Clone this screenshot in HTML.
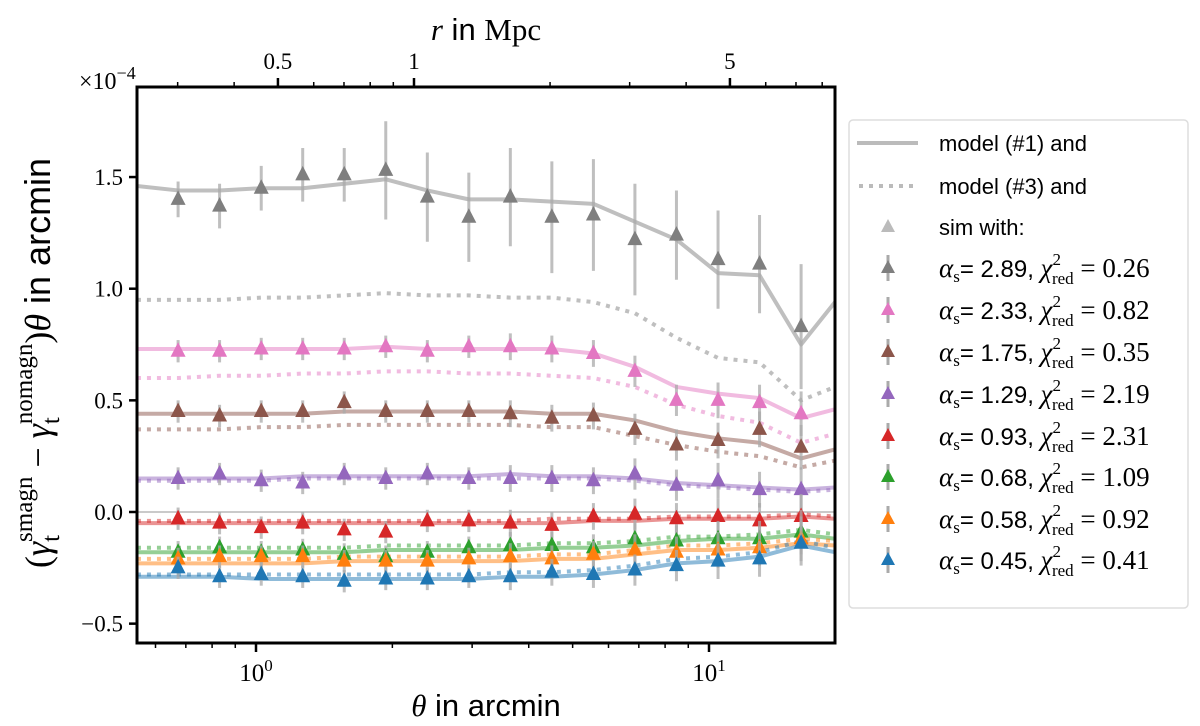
<!DOCTYPE html>
<html><head><meta charset="utf-8"><style>
body{margin:0;background:#fff;}
svg{display:block;}
text{font-family:"Liberation Sans",sans-serif;}
.serif{font-family:"Liberation Serif",serif;}
</style></head><body>
<svg id="chart" width="1200" height="726" viewBox="0 0 1200 726" xmlns="http://www.w3.org/2000/svg"></svg>
<script>
const theta = [0.673,0.831,1.027,1.268,1.566,1.934,2.389,2.950,3.643,4.499,5.557,6.862,8.475,10.47,12.93,15.97];
const thetaModel = [0.546,0.673,0.831,1.027,1.268,1.566,1.934,2.389,2.950,3.643,4.499,5.557,6.862,8.475,10.47,12.93,15.97,18.97];
const seriesNames = ['2.89','2.33','1.75','1.29','0.93','0.68','0.58','0.45'];
const chiLabels = ['0.26','0.82','0.35','2.19','2.31','1.09','0.92','0.41'];
const seriesColors = ['#7f7f7f','#e377c2','#8c564b','#9467bd','#d62728','#2ca02c','#ff7f0e','#1f77b4'];
const simGray = [1.40,1.37,1.45,1.51,1.51,1.53,1.41,1.32,1.41,1.32,1.33,1.22,1.24,1.13,1.11,0.83];
const errGray = [0.08,0.1,0.1,0.12,0.12,0.22,0.2,0.2,0.22,0.25,0.25,0.25,0.2,0.22,0.22,0.28];
const simPink = [0.72,0.72,0.73,0.73,0.73,0.74,0.72,0.74,0.74,0.73,0.71,0.63,0.50,0.50,0.49,0.44];
const simBrown = [0.45,0.43,0.45,0.45,0.49,0.45,0.45,0.45,0.44,0.42,0.43,0.37,0.30,0.32,0.37,0.29];
const simPurple = [0.15,0.17,0.14,0.13,0.17,0.15,0.17,0.15,0.15,0.15,0.14,0.17,0.12,0.14,0.10,0.10];
const simRed = [-0.03,-0.05,-0.07,-0.05,-0.08,-0.09,-0.04,-0.04,-0.05,-0.06,-0.02,-0.01,-0.03,-0.02,-0.04,-0.02];
const simGreen = [-0.18,-0.16,-0.18,-0.17,-0.19,-0.20,-0.18,-0.16,-0.15,-0.15,-0.16,-0.12,-0.13,-0.12,-0.12,-0.09];
const simOrange = [-0.21,-0.20,-0.20,-0.20,-0.22,-0.22,-0.22,-0.21,-0.20,-0.21,-0.19,-0.17,-0.18,-0.17,-0.16,-0.12];
const simBlue = [-0.25,-0.29,-0.28,-0.29,-0.31,-0.30,-0.30,-0.29,-0.29,-0.27,-0.28,-0.26,-0.24,-0.22,-0.21,-0.14];
const errSmall = [0.05,0.05,0.05,0.05,0.05,0.05,0.05,0.05,0.06,0.06,0.06,0.07,0.07,0.08,0.08,0.1];
const model1Gray = [1.46,1.44,1.44,1.45,1.45,1.47,1.49,1.44,1.40,1.40,1.39,1.38,1.30,1.22,1.07,1.06,0.75,0.94];
const model3Gray = [0.95,0.95,0.95,0.96,0.96,0.97,0.98,0.97,0.97,0.96,0.96,0.94,0.89,0.78,0.69,0.67,0.50,0.56];
const model1Pink = [0.73,0.73,0.73,0.73,0.73,0.73,0.74,0.73,0.73,0.73,0.73,0.71,0.65,0.56,0.53,0.51,0.42,0.46];
const model3Pink = [0.60,0.60,0.61,0.61,0.62,0.62,0.63,0.63,0.62,0.62,0.61,0.60,0.56,0.48,0.43,0.40,0.31,0.35];
const model1Brown = [0.44,0.44,0.44,0.44,0.44,0.45,0.45,0.45,0.45,0.45,0.44,0.44,0.41,0.36,0.33,0.31,0.24,0.28];
const model3Brown = [0.37,0.37,0.37,0.38,0.38,0.39,0.39,0.39,0.39,0.39,0.38,0.38,0.34,0.30,0.27,0.25,0.20,0.23];
const model1Purple = [0.15,0.15,0.15,0.15,0.16,0.16,0.16,0.16,0.16,0.17,0.16,0.16,0.15,0.13,0.12,0.11,0.10,0.11];
const model3Purple = [0.14,0.14,0.14,0.14,0.15,0.15,0.15,0.15,0.15,0.15,0.15,0.15,0.14,0.12,0.11,0.10,0.09,0.10];
const model1Red = [-0.05,-0.05,-0.05,-0.05,-0.05,-0.05,-0.05,-0.05,-0.05,-0.05,-0.05,-0.04,-0.04,-0.03,-0.03,-0.03,-0.02,-0.03];
const model3Red = [-0.04,-0.04,-0.04,-0.04,-0.04,-0.04,-0.04,-0.04,-0.04,-0.04,-0.03,-0.03,-0.03,-0.02,-0.02,-0.02,-0.01,-0.02];
const model1Green = [-0.18,-0.18,-0.18,-0.18,-0.18,-0.18,-0.17,-0.17,-0.17,-0.17,-0.16,-0.16,-0.15,-0.13,-0.12,-0.12,-0.10,-0.12];
const model3Green = [-0.16,-0.16,-0.16,-0.16,-0.16,-0.16,-0.15,-0.15,-0.15,-0.15,-0.14,-0.14,-0.13,-0.11,-0.11,-0.10,-0.08,-0.10];
const model1Orange = [-0.23,-0.23,-0.23,-0.23,-0.23,-0.22,-0.22,-0.22,-0.22,-0.22,-0.21,-0.21,-0.19,-0.17,-0.17,-0.16,-0.14,-0.15];
const model3Orange = [-0.21,-0.21,-0.21,-0.21,-0.21,-0.20,-0.20,-0.20,-0.20,-0.20,-0.19,-0.19,-0.17,-0.15,-0.15,-0.14,-0.12,-0.13];
const model1Blue = [-0.29,-0.29,-0.29,-0.30,-0.30,-0.30,-0.30,-0.30,-0.30,-0.29,-0.29,-0.28,-0.26,-0.23,-0.22,-0.20,-0.15,-0.18];
const model3Blue = [-0.28,-0.28,-0.28,-0.28,-0.28,-0.28,-0.28,-0.28,-0.28,-0.27,-0.27,-0.26,-0.24,-0.21,-0.20,-0.18,-0.13,-0.16];
const yTicks = [-0.5,0.0,0.5,1.0,1.5];
const yTickLabels = ['\u22120.5','0.0','0.5','1.0','1.5'];
const rTicks = [0.5,1,5];

const sims=[simGray,simPink,simBrown,simPurple,simRed,simGreen,simOrange,simBlue];
const m1=[model1Gray,model1Pink,model1Brown,model1Purple,model1Red,model1Green,model1Orange,model1Blue];
const m3=[model3Gray,model3Pink,model3Brown,model3Purple,model3Red,model3Green,model3Orange,model3Blue];

const L=137,R=835,T=87,B=643;
const X=t=>256+453*Math.log10(t);
const Y=v=>512-223.3*v;
const RX=r=>414+452*Math.log10(r);
const svg=document.getElementById('chart');
const NS='http://www.w3.org/2000/svg';
function mk(tag,attrs,parent){const e=document.createElementNS(NS,tag);for(const k in attrs)e.setAttribute(k,attrs[k]);(parent||svg).appendChild(e);return e;}
function txt(s,x,y,size,anchor,parent,cls){const e=mk('text',{x:x,y:y,'font-size':size,'text-anchor':anchor||'middle'},parent);if(cls)e.setAttribute('class',cls);e.innerHTML=s;return e;}

const defs=mk('defs',{});const cp=mk('clipPath',{id:'clip'},defs);mk('rect',{x:L,y:T,width:R-L,height:B-T},cp);
const plot=mk('g',{'clip-path':'url(#clip)'});


const zl=mk('line',{x1:L,x2:R,y1:Y(0),y2:Y(0),stroke:'#aaa','stroke-width':1.2},plot);



for(let s=0;s<8;s++){
  const c=seriesColors[s];
  const p1=thetaModel.map((t,i)=>X(t)+','+Y(m1[s][i])).join(' ');
  const a=mk('polyline',{points:p1,fill:'none',stroke:c,'stroke-opacity':0.5,'stroke-width':4,'stroke-linejoin':'round'},plot);
  
  
  const b=mk('polyline',{points:thetaModel.map((t,i)=>X(t)+','+Y(m3[s][i])).join(' '),fill:'none',stroke:c,'stroke-opacity':0.5,'stroke-width':4,'stroke-dasharray':'4,6'},plot);
  
  
}
for(let s=0;s<8;s++){
  const c=seriesColors[s];
  const g=mk('g',{},plot);
  
  
  theta.forEach((t,i)=>{
    const x=X(t);const e=s===0?errGray[i]:errSmall[i];
    mk('line',{x1:x,x2:x,y1:Y(sims[s][i]+e),y2:Y(sims[s][i]-e),stroke:'#aaa','stroke-opacity':0.75,'stroke-width':3},g);
  });
  theta.forEach((t,i)=>{
    const x=X(t),y=Y(sims[s][i]);
    const tr=mk('polygon',{points:`${x},${y-9} ${x-7.5},${y+5.5} ${x+7.5},${y+5.5}`,fill:c},g);
    
    
  });
}
const fr=mk('rect',{x:L,y:T,width:R-L,height:B-T,fill:'none',stroke:'#000','stroke-width':3});


yTicks.forEach((v,i)=>{mk('line',{x1:L-8,x2:L,y1:Y(v),y2:Y(v),stroke:'#000','stroke-width':2.5});
 const t=txt(yTickLabels[i],L-14,Y(v)+8,23,'end',null,'serif');});
for(let d=-1;d<=1;d++)for(let m=1;m<10;m++){const t=m*Math.pow(10,d);const x=X(t);if(x<L||x>R)continue;
 mk('line',{x1:x,x2:x,y1:B,y2:B+(m===1?9:5),stroke:'#000','stroke-width':m===1?2.5:1.5});}
[[1,'0'],[10,'1']].forEach(([t,e])=>{const g=txt('10<tspan dy="-10" font-size="17">'+e+'</tspan>',X(t),B+38,25,'middle',null,'serif');});
for(let d=-1;d<=0;d++)for(let m=1;m<10;m++){const r=m*Math.pow(10,d);const x=RX(r);if(x<L||x>R)continue;
 const maj=(rTicks.indexOf(r)>=0);mk('line',{x1:x,x2:x,y1:T,y2:T-(maj?9:5),stroke:'#000','stroke-width':maj?2.5:1.5});}
rTicks.forEach(r=>{const t=txt(String(r),RX(r),T-18,23,'middle',null,'serif');});
const ex=txt('\u00d710<tspan dy="-10" font-size="18">\u22124</tspan>',79,89,24,'start',null,'serif');
const xt=txt('<tspan class="serif" font-style="italic">θ</tspan> in arcmin',486,716,31);
const tt=txt('<tspan class="serif" font-style="italic">r</tspan> in <tspan class="serif">Mpc</tspan>',486,40,31);
const yt=txt('<tspan class="serif">(</tspan><tspan class="serif" font-style="italic">γ</tspan><tspan font-size="25" dy="9" class="serif">t</tspan><tspan font-size="25" dx="-7" dy="-27" class="serif">smagn</tspan><tspan dy="18" class="serif"> − </tspan><tspan class="serif" font-style="italic">γ</tspan><tspan font-size="25" dy="9" class="serif">t</tspan><tspan font-size="25" dx="-7" dy="-27" class="serif">nomagn</tspan><tspan dy="18" class="serif">)</tspan><tspan class="serif" font-style="italic">θ</tspan> in arcmin',0,0,36,'middle');
yt.setAttribute('transform','translate(50,363) rotate(-90)');
const lg=mk('g',{});
mk('rect',{x:849,y:120,width:339,height:488,rx:4,fill:'#fff',stroke:'#ddd','stroke-width':1.5},lg);
const rowY=[143,186,227,268,310,352,394,436,477,519,560];
mk('line',{x1:857,x2:918,y1:rowY[0],y2:rowY[0],stroke:'#bbb','stroke-width':4},lg);
mk('line',{x1:859,x2:918,y1:rowY[1],y2:rowY[1],stroke:'#bbb','stroke-width':4,'stroke-dasharray':'4,6'},lg);
mk('polygon',{points:`888,${rowY[2]-8} 881,${rowY[2]+5} 895,${rowY[2]+5}`,fill:'#bbb'},lg);
['model (#1) and','model (#3) and','sim with:'].forEach((s,i)=>{const t=txt(s,939,rowY[i]+8,22,'start',lg);});
for(let s=0;s<8;s++){const y=rowY[s+3];
 mk('line',{x1:888,x2:888,y1:y-13,y2:y+13,stroke:'#aaa','stroke-width':3},lg);
 mk('polygon',{points:`888,${y-8} 881,${y+5} 895,${y+5}`,fill:seriesColors[s]},lg);
 const t=txt('<tspan class="serif" font-style="italic" font-size="27">α</tspan><tspan class="serif" font-size="17" dy="5">s</tspan><tspan dy="-5" font-size="24">= '+seriesNames[s]+', </tspan><tspan class="serif" font-style="italic" font-size="27">χ</tspan><tspan class="serif" font-size="17" dy="-12">2</tspan><tspan class="serif" font-size="17" dx="-9" dy="19">red</tspan><tspan class="serif" font-size="27" dy="-7"> = '+chiLabels[s]+'</tspan>',939,y+9,24,'start',lg);
 }
</script>
</body></html>
